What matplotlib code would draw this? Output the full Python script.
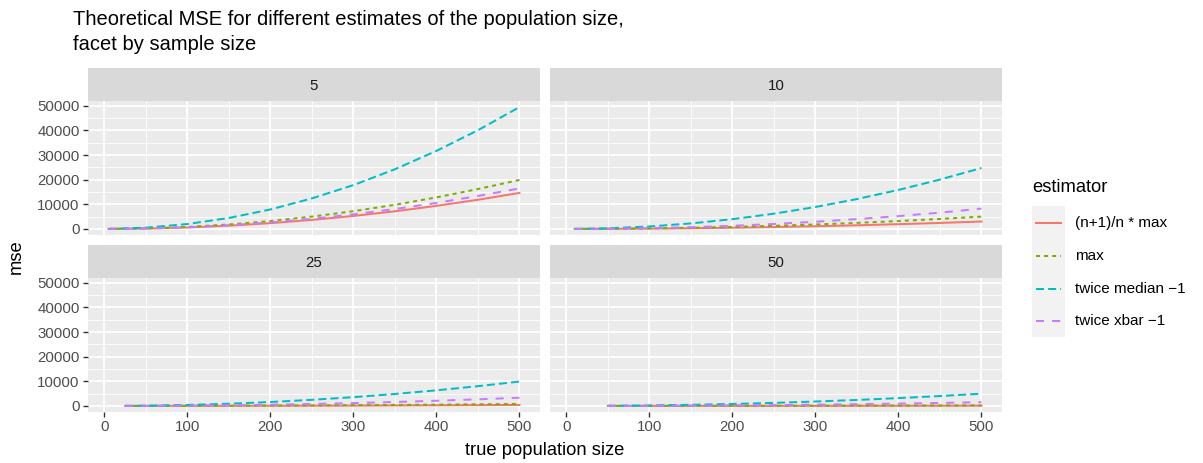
import matplotlib
matplotlib.use("Agg")
import matplotlib.pyplot as plt
from matplotlib.lines import Line2D
from matplotlib.patches import Rectangle
from matplotlib.ticker import MultipleLocator

plt.rcParams['font.family'] = ['Liberation Sans', 'DejaVu Sans']

# Data: MSE, by sample size
estimators = ["(n+1)/n * max", "max", "twice median \u22121", "twice xbar \u22121"]
sample_sizes = [5, 10, 25, 50]

pop_5 = [5, 50, 100, 150, 200, 250, 300, 350, 400, 450, 500]
adj_5 = [0, 146, 585, 1316, 2340, 3656, 5265, 7166, 9360, 11846, 14625]
max_5 = [0, 200, 800, 1800, 3200, 5000, 7200, 9800, 12800, 16200, 19900]
med_5 = [0, 495, 1980, 4450, 7900, 12400, 17800, 24250, 31700, 40100, 49500]
xbar_5 = [0, 153, 640, 1464, 2613, 4100, 5920, 8073, 10560, 13380, 16450]

pop_10 = [10, 50, 100, 150, 200, 250, 300, 350, 400, 450, 500]
adj_10 = [1, 30, 120, 270, 480, 750, 1080, 1470, 1920, 2430, 3000]
max_10 = [2, 50, 200, 450, 800, 1250, 1800, 2450, 3200, 4050, 5000]
med_10 = [10, 248, 990, 2228, 3960, 6190, 8910, 12130, 15840, 20050, 24750]
xbar_10 = [0, 68, 303, 705, 1273, 2008, 2910, 3978, 5213, 6615, 8250]

pop_25 = [25, 50, 100, 150, 200, 250, 300, 350, 400, 450, 500]
adj_25 = [1, 4, 16, 36, 64, 100, 144, 196, 256, 324, 400]
max_25 = [2, 8, 32, 72, 128, 200, 288, 392, 512, 648, 800]
med_25 = [25, 99, 396, 891, 1584, 2475, 3564, 4851, 6336, 8019, 9900]
xbar_25 = [0, 35, 105, 260, 490, 790, 1150, 1590, 2100, 2680, 3320]

pop_50 = [50, 100, 150, 200, 250, 300, 350, 400, 450, 500]
adj_50 = [1, 4, 9, 16, 25, 36, 49, 64, 81, 100]
max_50 = [2, 8, 18, 32, 50, 72, 98, 128, 162, 200]
med_50 = [50, 198, 446, 792, 1238, 1782, 2426, 3168, 4010, 4950]
xbar_50 = [0, 34, 101, 201, 335, 502, 702, 935, 1203, 1503]

panels = [
    (pop_5, [adj_5, max_5, med_5, xbar_5]),
    (pop_10, [adj_10, max_10, med_10, xbar_10]),
    (pop_25, [adj_25, max_25, med_25, xbar_25]),
    (pop_50, [adj_50, max_50, med_50, xbar_50]),
]

colors = ["#F8766D", "#7CAE00", "#00BFC4", "#C77CFF"]
dashes = [None, (2, 2), (4, 2), (4, 4)]
lw = 1.45

W, H = 1203, 463
fig = plt.figure(figsize=(W / 100, H / 100), dpi=100)

def fx(px):
    return px / W

def fy(py):
    return 1 - py / H

# shared scale limits (ggplot 5% expansion)
all_x = [v for p, _ in panels for v in p]
all_y = [v for _, ss in panels for s in ss for v in s]
xr = max(all_x) - min(all_x)
yr = max(all_y) - min(all_y)
xlim = (min(all_x) - 0.05 * xr, max(all_x) + 0.05 * xr)
ylim = (min(all_y) - 0.05 * yr, max(all_y) + 0.05 * yr)

lefts = [88, 550, 88, 550]
tops = [101, 101, 278, 278]
pw, ph = 452, 134
strip_h = 33

for i, (xs, series) in enumerate(panels):
    l, t = lefts[i], tops[i]
    ax = fig.add_axes([fx(l), fy(t + ph), fx(pw), ph / H])
    ax.set_facecolor("#EBEBEB")
    for s in ax.spines.values():
        s.set_visible(False)
    ax.set_xlim(xlim)
    ax.set_ylim(ylim)
    ax.xaxis.set_major_locator(MultipleLocator(100))
    ax.xaxis.set_minor_locator(MultipleLocator(50))
    ax.yaxis.set_major_locator(MultipleLocator(10000))
    ax.yaxis.set_minor_locator(MultipleLocator(5000))
    ax.grid(which="major", color="white", lw=1.25)
    ax.grid(which="minor", color="white", lw=0.6)
    ax.set_axisbelow(True)
    ax.tick_params(which="minor", length=0)
    ax.tick_params(which="major", length=3.5, width=1.0, color="#333333",
                   labelsize=10.8, labelcolor="#4D4D4D", pad=2.5)
    if i % 2 == 1:
        ax.tick_params(axis="y", left=False, labelleft=False)
    if i < 2:
        ax.tick_params(axis="x", bottom=False, labelbottom=False)
    for ys, c, d in zip(series, colors, dashes):
        ln, = ax.plot(xs, ys, color=c, lw=lw)
        if d is not None:
            ln.set_dashes(d)

    # strip
    sax = fig.add_axes([fx(l), fy(t), fx(pw), strip_h / H])
    sax.set_facecolor("#D9D9D9")
    sax.set_xticks([])
    sax.set_yticks([])
    for s in sax.spines.values():
        s.set_visible(False)
    sax.text(0.5, 0.45, str(sample_sizes[i]), ha="center", va="center",
             fontsize=10.8, color="#1A1A1A", transform=sax.transAxes)

# titles
fig.text(fx(73), fy(50), "Theoretical MSE for different estimates of the population size,\nfacet by sample size",
         ha="left", va="baseline", fontsize=14.5, linespacing=1.42)
fig.text(fx(545), fy(455), "true population size", ha="center", va="baseline", fontsize=13.2)
fig.text(fx(16), fy(257), "mse", ha="center", va="center", rotation=90, fontsize=13.2)

# legend
fig.text(fx(1032), fy(187), "estimator", ha="left", va="center", fontsize=13.2)
fig.patches.append(Rectangle((fx(1032), fy(337)), fx(33), (337 - 206) / H,
                             transform=fig.transFigure, facecolor="#F2F2F2",
                             edgecolor="none"))
key_y = [223, 256, 289, 321]
for lab, c, d, ky in zip(estimators, colors, dashes, key_y):
    ln = Line2D([fx(1036), fx(1061)], [fy(ky), fy(ky)], transform=fig.transFigure,
                color=c, lw=lw)
    if d is not None:
        ln.set_dashes(d)
    fig.lines.append(ln)
    fig.text(fx(1075), fy(ky), lab, ha="left", va="center", fontsize=11, color="black")

fig.savefig("out.png", dpi=100)
